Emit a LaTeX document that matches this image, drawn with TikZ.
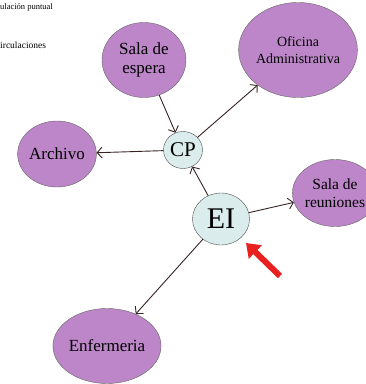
\documentclass[tikz,border=0pt]{standalone}
\usepackage{fontspec}
\setmainfont{Liberation Serif}
\usetikzlibrary{arrows.meta, positioning, shapes.geometric}

\definecolor{violeta}{RGB}{188,134,200}
\definecolor{celeste}{RGB}{218,236,236}
\definecolor{linea}{RGB}{55,35,35}
\definecolor{rojo}{RGB}{232,32,32}

\begin{document}
\begin{tikzpicture}[x=1pt, y=-1pt,
    zona/.style={ellipse, draw=black!60, fill=violeta, inner sep=0pt, align=center, font=\fontsize{17}{19}\selectfont},
    nudo/.style={ellipse, draw=black!70, fill=celeste, inner sep=0pt},
    flujo/.style={draw=linea, line width=0.9pt, -{Straight Barb[length=5pt,width=11pt]}}]
  \useasboundingbox (0,0) rectangle (366,384);
  \node[anchor=west, inner sep=0pt, font=\fontsize{8.5}{10}\selectfont] (leyenda1) at (0,7) {ulación puntual};
  \node[anchor=west, inner sep=0pt, font=\fontsize{9.5}{11}\selectfont] (leyenda2) at (0,45) {irculaciones};
  \node[zona, minimum width=84pt, minimum height=75pt] (espera) at (144,60) {Sala de\\espera};
  \node[zona, minimum width=103pt, minimum height=95pt, font=\fontsize{14}{17}\selectfont] (oficina) at (298,50) {Oficina\\Administrativa};
  \node[zona, minimum width=72pt, minimum height=66pt] (archivo) at (57,154) {Archivo};
  \node[zona, minimum width=84pt, minimum height=67pt, font=\fontsize{15.5}{18}\selectfont] (reuniones) at (335,193) {Sala de\\reuniones};
  \node[zona, minimum width=85pt, minimum height=75pt] (enfermeria) at (107,346) {Enfermeria};
  \node[nudo, minimum width=39pt, minimum height=37pt, font=\fontsize{21}{23}\selectfont] (cp) at (183,150) {CP};
  \node[nudo, minimum width=57pt, minimum height=52pt, font=\fontsize{30}{32}\selectfont] (ei) at (221,219) {EI};
  \draw[flujo] (espera) -- (cp);
  \draw[flujo] (cp) -- (oficina);
  \draw[flujo] (cp) -- (archivo);
  \draw[flujo] (ei) -- (cp);
  \draw[flujo] (ei) -- (reuniones);
  \draw[flujo] (ei) -- (enfermeria);
  \coordinate (cola) at (280,276);
  \coordinate (punta) at (246,243);
  \draw[rojo, line width=6pt, -{Triangle[width=18pt,length=13pt]}] (cola) -- (punta);
\end{tikzpicture}
\end{document}
